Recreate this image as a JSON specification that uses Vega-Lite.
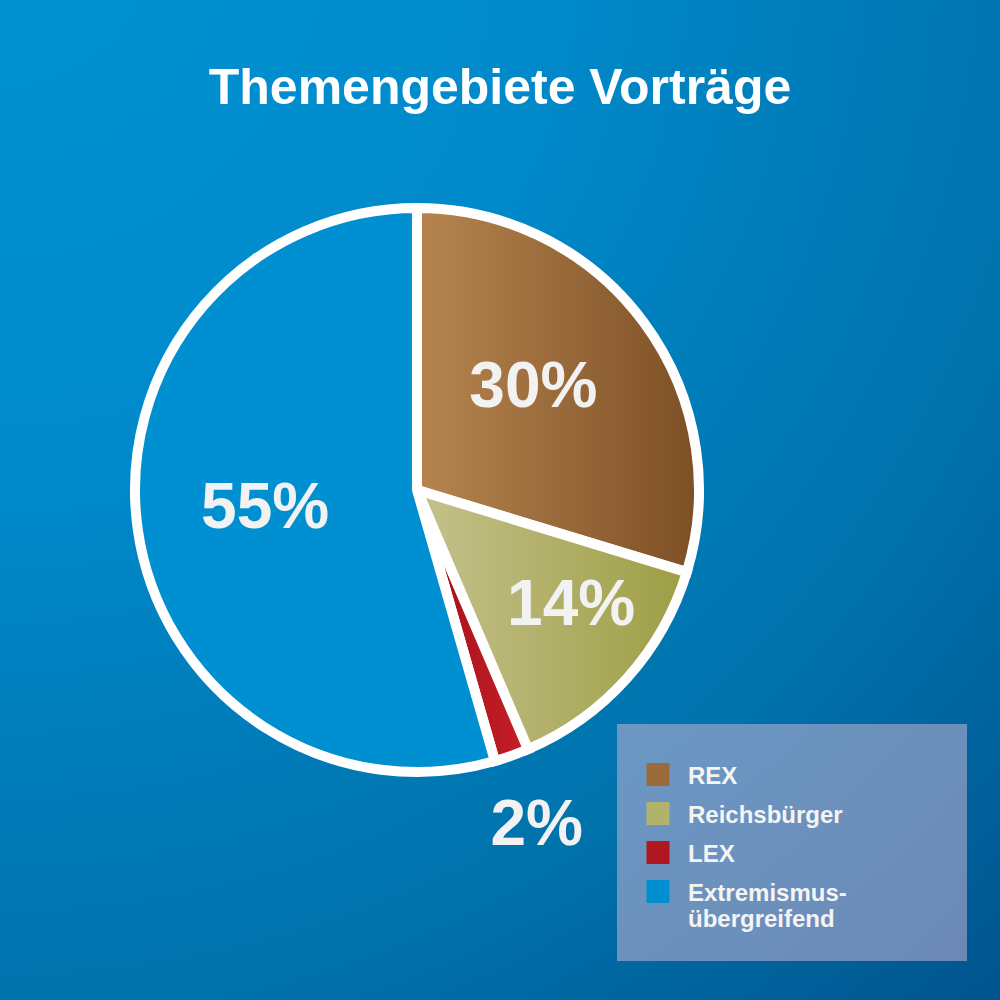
{
  "$schema": "https://vega.github.io/schema/vega-lite/v6.json",
  "width": 1166,
  "height": 1020,
  "autosize": "none",
  "padding": {"left": -166, "top": -20, "right": 0, "bottom": 0},
  "background": "#00649b",
  "title": {
    "text": "Themengebiete Vorträge",
    "font": "Liberation Sans",
    "fontSize": 50,
    "fontWeight": "bold",
    "color": "#ffffff",
    "anchor": "middle",
    "frame": "group",
    "dx": 83,
    "offset": -174,
    "baseline": "alphabetic"
  },
  "data": {
    "values": [
      {"Thema": "REX", "Anteil": 30, "Label": "30%", "Reihenfolge": 1},
      {"Thema": "Reichsbürger", "Anteil": 14, "Label": "14%", "Reihenfolge": 2},
      {"Thema": "LEX", "Anteil": 2, "Label": "2%", "Reihenfolge": 3},
      {"Thema": "Extremismus-übergreifend", "Anteil": 55, "Label": "55%", "Reihenfolge": 4}
    ]
  },
  "layer": [
    {
      "mark": {
        "type": "rect",
        "fill": {"gradient": "radial", "x1": 0.142, "y1": 0.02, "r1": 0, "x2": 0.142, "y2": 0.02, "r2": 1.3, "stops": [{"offset": 0, "color": "#0093d3"}, {"offset": 0.35, "color": "#008acb"}, {"offset": 0.7, "color": "#0073ad"}, {"offset": 1, "color": "#00508a"}]}
      },
      "encoding": {}
    },
    {
      "mark": {"type": "arc", "outerRadius": 282, "opacity": 0},
      "encoding": {
        "theta": {"field": "Anteil", "type": "quantitative", "stack": true},
        "order": {"field": "Reihenfolge", "type": "quantitative"},
        "color": {
          "field": "Thema",
          "type": "nominal",
          "scale": {
            "domain": ["REX", "Reichsbürger", "LEX", "Extremismus-übergreifend"],
            "range": ["#9a6a3a", "#b3b26a", "#b0161f", "#0090d2"]
          },
          "legend": {
            "orient": "none",
            "legendX": 783,
            "legendY": 744,
            "title": "xxxxxxxxxxxxxxxxxxxxxxxxxxxxxxxxxxxxxxxxxxxxxxxxxxxxxxxxxxxxxxxxxxxxxxxxxxxxxxxxxxxxxxxxxxxxxxxxx",
            "titleFont": "DejaVu Sans Mono",
            "titleFontSize": 5,
            "titleOpacity": 0,
            "titlePadding": -5,
            "titleLimit": 1000,
            "padding": 29,
            "fillColor": "rgba(215,185,215,0.5)",
            "labelFont": "Liberation Sans",
            "labelFontSize": 24,
            "labelFontWeight": "bold",
            "labelColor": "#f4f4f4",
            "labelBaseline": "top",
            "labelOffset": 18,
            "labelLimit": 400,
            "symbolType": "M-1,-0.17H1V1.83H-1Z",
            "symbolSize": 529,
            "symbolStrokeWidth": 0,
            "symbolOpacity": 1,
            "rowPadding": 3,
            "labelExpr": "datum.label == 'Extremismus-übergreifend' ? ['Extremismus-', 'übergreifend'] : datum.label"
          }
        }
      }
    },
    {
      "mark": {"type": "arc", "outerRadius": 282, "stroke": "#ffffff", "strokeWidth": 10},
      "encoding": {
        "theta": {"field": "Anteil", "type": "quantitative", "stack": true},
        "order": {"field": "Reihenfolge", "type": "quantitative"},
        "fill": {
          "condition": [
            {"test": "datum.Thema == 'REX'", "value": {"gradient": "linear", "x1": 0, "y1": 0, "x2": 1, "y2": 0, "stops": [{"offset": 0, "color": "#b6854f"}, {"offset": 1, "color": "#7d4f25"}]}},
            {"test": "datum.Thema == 'Reichsbürger'", "value": {"gradient": "linear", "x1": 0, "y1": 0, "x2": 1, "y2": 0, "stops": [{"offset": 0, "color": "#c5c18d"}, {"offset": 1, "color": "#9d9e44"}]}},
            {"test": "datum.Thema == 'LEX'", "value": {"gradient": "linear", "x1": 0, "y1": 0, "x2": 1, "y2": 0, "stops": [{"offset": 0, "color": "#9c1118"}, {"offset": 1, "color": "#c81e27"}]}}
          ],
          "value": "#008fd0"
        }
      }
    },
    {
      "mark": {"type": "text", "radius": 155, "thetaOffset": -0.084, "font": "Liberation Sans", "fontSize": 64, "fontWeight": "bold", "fill": "#f2f2f2", "align": "center", "baseline": "middle"},
      "encoding": {
        "theta": {"field": "Anteil", "type": "quantitative", "stack": true},
        "order": {"field": "Reihenfolge", "type": "quantitative"},
        "text": {"condition": {"test": "datum.Thema == 'REX'", "field": "Label"}, "value": ""}
      }
    },
    {
      "mark": {"type": "text", "radius": 193, "thetaOffset": -0.085, "font": "Liberation Sans", "fontSize": 64, "fontWeight": "bold", "fill": "#f2f2f2", "align": "center", "baseline": "middle"},
      "encoding": {
        "theta": {"field": "Anteil", "type": "quantitative", "stack": true},
        "order": {"field": "Reihenfolge", "type": "quantitative"},
        "text": {"condition": {"test": "datum.Thema == 'Reichsbürger'", "field": "Label"}, "value": ""}
      }
    },
    {
      "mark": {"type": "text", "radius": 357, "font": "Liberation Sans", "fontSize": 64, "fontWeight": "bold", "fill": "#f2f2f2", "align": "center", "baseline": "middle"},
      "encoding": {
        "theta": {"field": "Anteil", "type": "quantitative", "stack": true},
        "order": {"field": "Reihenfolge", "type": "quantitative"},
        "text": {"condition": {"test": "datum.Thema == 'LEX'", "field": "Label"}, "value": ""}
      }
    },
    {
      "mark": {"type": "text", "radius": 153, "thetaOffset": 0.017, "font": "Liberation Sans", "fontSize": 64, "fontWeight": "bold", "fill": "#f2f2f2", "align": "center", "baseline": "middle"},
      "encoding": {
        "theta": {"field": "Anteil", "type": "quantitative", "stack": true},
        "order": {"field": "Reihenfolge", "type": "quantitative"},
        "text": {"condition": {"test": "datum.Thema == 'Extremismus-übergreifend'", "field": "Label"}, "value": ""}
      }
    }
  ],
  "config": {
    "view": {"stroke": null}
  }
}
